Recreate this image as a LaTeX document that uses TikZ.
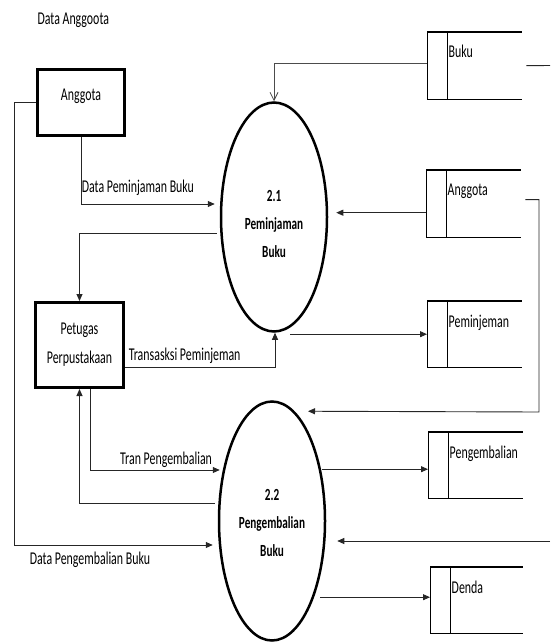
\documentclass[tikz,border=0pt]{standalone}
\usepackage{fontspec}
\setmainfont{Carlito}[FakeStretch=0.66]
\usetikzlibrary{shapes.geometric, arrows.meta, positioning}

\begin{document}
\begin{tikzpicture}
  [
    x=1pt, y=-1pt,
    font=\fontsize{18}{28}\selectfont,
    Entity/.style={rectangle, draw=black, line width=3pt, minimum width=87pt, minimum height=66pt, align=center},
    Proc/.style={ellipse, draw=black, line width=2.5pt, minimum width=106pt, minimum height=229pt, inner sep=0pt, align=center, font=\bfseries\fontsize{17}{28}\selectfont},
    Store/.style={rectangle, minimum width=95pt, minimum height=67pt, inner sep=0pt, anchor=north west,
      append after command={
        (\tikzlastnode.north west) edge[line width=1.4pt] (\tikzlastnode.north east)
        (\tikzlastnode.south west) edge[line width=1.4pt] (\tikzlastnode.south east)
        (\tikzlastnode.north west) edge[line width=1pt] (\tikzlastnode.south west)
        ([xshift=20pt]\tikzlastnode.north west) edge[line width=0.8pt] ([xshift=20pt]\tikzlastnode.south west)
        ([xshift=20pt, yshift=-26pt]\tikzlastnode.north west) node[anchor=base west, inner sep=1.5pt] {#1}
      }},
    Flow/.style={draw=black!85, line width=0.9pt, -{Triangle[length=7pt, width=6pt]}},
    Open/.style={draw=black!70, line width=0.8pt, -{Straight Barb[length=8pt, width=8pt]}},
    Plain/.style={draw=black!85, line width=0.9pt}
  ]
  \useasboundingbox (0,0) rectangle (550,644);

  % Nodes
  \node[anchor=base west] (dataang) at (34,25) {Data Anggoota};

  \node[Entity, text depth=16pt] (ang) at (81,102.5) {Anggota};
  \node[Entity, minimum width=88pt, minimum height=85pt, font=\fontsize{18}{29}\selectfont] (pet) at (79.5,345) {Petugas\\Perpustakaan};

  \node[Proc, text height=82pt] (p1) at (274,217) {2.1\\Peminjaman\\Buku};
  \node[Proc, text height=72pt, minimum height=239pt] (p2) at (272,521) {2.2\\Pengembalian\\Buku};

  \node[Store=Buku] (buku) at (427,32) {};
  \node[Store=Anggota] (ast) at (426,170) {};
  \node[Store=Peminjeman, minimum height=66pt] (pmj) at (427,301) {};
  \node[Store=Pengembalian, minimum height=66pt] (pgb) at (428,432) {};
  \node[Store=Denda, minimum width=93pt, minimum height=66pt] (dnd) at (430,567) {};

  \coordinate (lrail) at (14,103);
  \coordinate (rrail) at (539,412);
  \coordinate (bukuout) at (550,65.5);
  \coordinate (rin) at (550,541);

  % Lines
  \draw[Open] ([yshift=2pt]buku.west) -| (p1.north);
  \draw[Flow, shorten >=8pt] ([yshift=-9pt]ast.west) -- ([yshift=-9pt]ast.west -| p1.east);
  \draw[Flow] ([xshift=16pt]p1.south |- pmj.west) -- (pmj.west);
  \draw[Flow] ([yshift=-22pt]pet.east) -| ([xshift=1pt]p1.south)
    node[pos=0, above right] {Transasksi Peminjeman};
  \draw[Flow] (ang.south) |- ([xshift=-5pt, yshift=13pt]p1.west)
    node[pos=0.5, above right, xshift=-3pt, yshift=5pt] {Data Peminjaman Buku};
  \draw[Flow] ([xshift=-3pt, yshift=-16pt]p1.west) -| (pet.north);
  \draw[Flow] (ang.west) -- (ang.west -| lrail) |- ([xshift=-5pt, yshift=-24pt]p2.west)
    node[pos=0.691, below, yshift=-3pt] {Data Pengembalian Buku};
  \draw[Flow] ([xshift=-3pt, yshift=18pt]p2.west) -| (pet.south);
  \draw[Flow] ([xshift=11pt]pet.south) |- ([xshift=2pt, yshift=51pt]p2.west)
    node[pos=1, above left, xshift=-4pt, yshift=-1pt] {Tran Pengembalian};
  \draw[Flow] ([xshift=4pt, yshift=4pt]ast.east) -| (rrail) -- ([xshift=36pt, yshift=-11pt]p2.north);
  \draw[Plain] ([xshift=4pt]buku.east) -- (bukuout);
  \draw[Flow] (rin) -- ([xshift=11pt, yshift=-20pt]p2.east);
  \draw[Flow, shorten <=-4pt] ([yshift=-4pt]pgb.west -| p2.east) -- ([yshift=-4pt]pgb.west);
  \draw[Flow, shorten <=-6pt] ([yshift=3pt]dnd.west -| p2.east) -- ([yshift=3pt]dnd.west);

\end{tikzpicture}
\end{document}
